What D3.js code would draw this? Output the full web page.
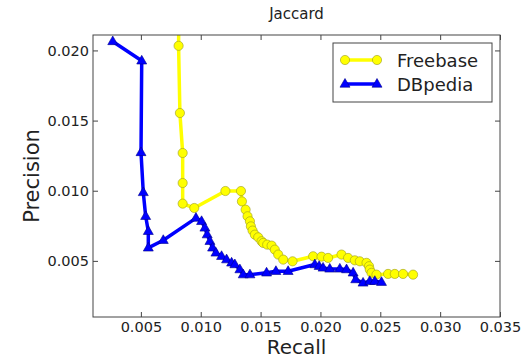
<!DOCTYPE html>
<html>
<head>
<meta charset="utf-8">
<script src="https://cdn.jsdelivr.net/npm/d3@7"></script>
<style>
  body { margin: 0; background: #fff; }
  text { font-family: "DejaVu Sans", sans-serif; fill: #222; }
</style>
</head>
<body>
<script>

var width  = 524;
var height = 358;

var margin = { top: 35, right: 24, bottom: 41, left: 93 };

// Freebase (yellow circles), first point sits above the visible area
var fbRecall    = [ 0.00818, 0.00815, 0.00826, 0.00849, 0.00849, 0.00849, 0.00946, 0.01206, 0.01336,
                    0.01344, 0.01375, 0.01391, 0.01411, 0.01419, 0.01433, 0.01452, 0.01480, 0.01508,
                    0.01522, 0.01555, 0.01592, 0.01619, 0.01647, 0.01689, 0.01767, 0.01939, 0.02009,
                    0.02064, 0.02176, 0.02231, 0.02287, 0.02329, 0.02385, 0.02406, 0.02412, 0.02427,
                    0.02468, 0.02565, 0.02621, 0.02690, 0.02774 ];
var fbPrecision = [ 0.02400, 0.02033, 0.01554, 0.01269, 0.01055, 0.00908, 0.00877, 0.00998, 0.00998,
                    0.00924, 0.00865, 0.00818, 0.00782, 0.00746, 0.00716, 0.00687, 0.00668, 0.00640,
                    0.00628, 0.00616, 0.00609, 0.00580, 0.00545, 0.00509, 0.00497, 0.00533, 0.00530,
                    0.00521, 0.00545, 0.00521, 0.00504, 0.00497, 0.00486, 0.00462, 0.00438, 0.00415,
                    0.00402, 0.00407, 0.00407, 0.00407, 0.00402 ];

// DBpedia (blue triangles)
var dbRecall    = [ 0.00265, 0.00507, 0.00501, 0.00520, 0.00540, 0.00562, 0.00562, 0.00687, 0.00960,
                    0.01007, 0.01035, 0.01054, 0.01077, 0.01099, 0.01127, 0.01174, 0.01216, 0.01258,
                    0.01285, 0.01327, 0.01355, 0.01411, 0.01550, 0.01628, 0.01730, 0.01953, 0.01989,
                    0.02022, 0.02078, 0.02162, 0.02218, 0.02273, 0.02295, 0.02356, 0.02412, 0.02454,
                    0.02510 ];
var dbPrecision = [ 0.02064, 0.01926, 0.01273, 0.00988, 0.00818, 0.00711, 0.00593, 0.00647, 0.00805,
                    0.00782, 0.00735, 0.00687, 0.00640, 0.00593, 0.00557, 0.00533, 0.00509, 0.00486,
                    0.00474, 0.00438, 0.00402, 0.00402, 0.00415, 0.00426, 0.00426, 0.00474, 0.00462,
                    0.00450, 0.00443, 0.00443, 0.00438, 0.00415, 0.00367, 0.00343, 0.00355, 0.00355,
                    0.00348 ];

var xTicks = [ 0.005, 0.010, 0.015, 0.020, 0.025, 0.030, 0.035 ];
var yTicks = [ 0.005, 0.010, 0.015, 0.020 ];

var seriesNames = [ 'Freebase', 'DBpedia' ];


var fbData = fbRecall.map(function(r, i){ return { x: r, y: fbPrecision[i] }; });
var dbData = dbRecall.map(function(r, i){ return { x: r, y: dbPrecision[i] }; });

var x = d3.scaleLinear().domain([0.001, 0.035]).range([margin.left, width - margin.right]);
var y = d3.scaleLinear().domain([0.001, 0.0211]).range([height - margin.bottom, margin.top]);

var svg = d3.select('body')
            .append('svg')
            .attr('width', width)
            .attr('height', height);

svg.append('defs')
   .append('clipPath')
   .attr('id', 'plot-clip')
   .append('rect')
   .attr('x', margin.left)
   .attr('y', margin.top)
   .attr('width', width - margin.left - margin.right)
   .attr('height', height - margin.top - margin.bottom);

var fmt = d3.format('.3f');

// axes, matplotlib style ticks pointing inwards
svg.append('g')
   .attr('class', 'axis')
   .attr('transform', 'translate(0,' + (height - margin.bottom) + ')')
   .call(d3.axisBottom(x).tickValues(xTicks).tickFormat(fmt).tickSize(-5).tickPadding(5));

svg.append('g')
   .attr('class', 'axis')
   .attr('transform', 'translate(0,' + margin.top + ')')
   .call(d3.axisTop(x).tickValues(xTicks).tickFormat('').tickSize(-5));

svg.append('g')
   .attr('class', 'axis')
   .attr('transform', 'translate(' + margin.left + ',0)')
   .call(d3.axisLeft(y).tickValues(yTicks).tickFormat(fmt).tickSize(-5).tickPadding(4));

svg.append('g')
   .attr('class', 'axis')
   .attr('transform', 'translate(' + (width - margin.right) + ',0)')
   .call(d3.axisRight(y).tickValues(yTicks).tickFormat('').tickSize(-5));

svg.selectAll('.axis .domain').remove();
svg.selectAll('.axis line').attr('stroke', '#444');
svg.selectAll('.axis text')
   .attr('font-size', '14.5px')
   .attr('font-family', '"DejaVu Sans", sans-serif')
   .attr('fill', '#222');

var plot = svg.append('g').attr('clip-path', 'url(#plot-clip)');

var line = d3.line()
             .x(function(d){ return x(d.x); })
             .y(function(d){ return y(d.y); });

var triangle = 'M0,-5.5L5,3.2L-5,3.2Z';

// Freebase
plot.append('path')
    .datum(fbData)
    .attr('d', line)
    .attr('fill', 'none')
    .attr('stroke', '#ffff00')
    .attr('stroke-width', 3.5)
    .attr('stroke-linejoin', 'round');

plot.selectAll('circle.fb')
    .data(fbData)
    .enter()
    .append('circle')
    .attr('class', 'fb')
    .attr('cx', function(d){ return x(d.x); })
    .attr('cy', function(d){ return y(d.y); })
    .attr('r', 4.6)
    .attr('fill', '#ffff00')
    .attr('stroke', '#9a9a20')
    .attr('stroke-width', 0.6);

// DBpedia
plot.append('path')
    .datum(dbData)
    .attr('d', line)
    .attr('fill', 'none')
    .attr('stroke', '#0000ff')
    .attr('stroke-width', 3.5)
    .attr('stroke-linejoin', 'round');

plot.selectAll('path.db')
    .data(dbData)
    .enter()
    .append('path')
    .attr('class', 'db')
    .attr('transform', function(d){ return 'translate(' + x(d.x) + ',' + y(d.y) + ')'; })
    .attr('d', triangle)
    .attr('fill', '#0000ff')
    .attr('stroke', '#00008a')
    .attr('stroke-width', 0.6);

// frame
svg.append('rect')
   .attr('x', margin.left)
   .attr('y', margin.top)
   .attr('width', width - margin.left - margin.right)
   .attr('height', height - margin.top - margin.bottom)
   .attr('fill', 'none')
   .attr('stroke', '#444')
   .attr('stroke-width', 1);

// title and axis labels
svg.append('text')
   .text('Jaccard')
   .attr('x', (margin.left + width - margin.right) / 2)
   .attr('y', 19)
   .attr('text-anchor', 'middle')
   .attr('font-size', '15px');

svg.append('text')
   .text('Recall')
   .attr('x', (margin.left + width - margin.right) / 2)
   .attr('y', 354)
   .attr('text-anchor', 'middle')
   .attr('font-size', '20px');

svg.append('text')
   .text('Precision')
   .attr('transform', 'translate(39,' + ((margin.top + height - margin.bottom) / 2) + ') rotate(-90)')
   .attr('text-anchor', 'middle')
   .attr('font-size', '21px');

// legend
var legend = svg.append('g').attr('transform', 'translate(333,43)');

legend.append('rect')
      .attr('width', 159)
      .attr('height', 59)
      .attr('fill', '#fff')
      .attr('stroke', '#444')
      .attr('stroke-width', 1);

var colors = [ '#ffff00', '#0000ff' ];

var items = legend.selectAll('g.item')
                  .data(seriesNames)
                  .enter()
                  .append('g')
                  .attr('class', 'item')
                  .attr('transform', function(d, i){ return 'translate(0,' + (17 + i * 24) + ')'; });

items.append('line')
     .attr('x1', 12)
     .attr('x2', 44)
     .attr('stroke', function(d, i){ return colors[i]; })
     .attr('stroke-width', 3.5);

items.each(function(d, i){
  var g = d3.select(this);
  [12, 44].forEach(function(px){
    if (i === 0) {
      g.append('circle')
       .attr('cx', px).attr('cy', 0).attr('r', 4.6)
       .attr('fill', '#ffff00').attr('stroke', '#9a9a20').attr('stroke-width', 0.6);
    } else {
      g.append('path')
       .attr('transform', 'translate(' + px + ',0)')
       .attr('d', triangle)
       .attr('fill', '#0000ff').attr('stroke', '#00008a').attr('stroke-width', 0.6);
    }
  });
});

items.append('text')
     .text(function(d){ return d; })
     .attr('x', 64)
     .attr('y', 6.5)
     .attr('font-size', '18px');

</script>
</body>
</html>
